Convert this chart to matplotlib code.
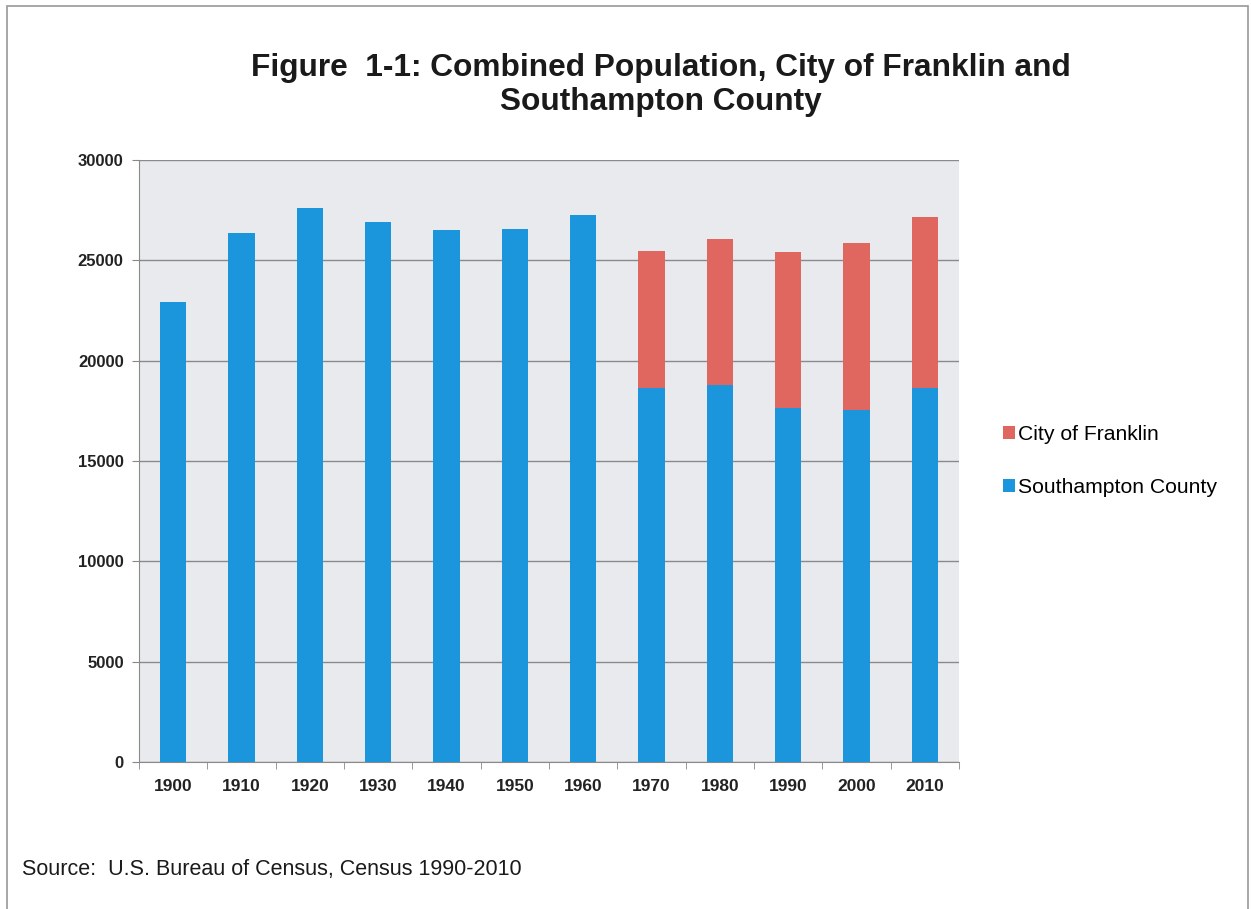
import matplotlib
matplotlib.use("Agg")
import matplotlib.pyplot as plt
from matplotlib.patches import Patch, Rectangle

years = ["1900", "1910", "1920", "1930", "1940", "1950", "1960",
         "1970", "1980", "1990", "2000", "2010"]
southampton = [22900, 26370, 27590, 26920, 26510, 26570, 27240,
               18650, 18780, 17620, 17540, 18620]
franklin = [0, 0, 0, 0, 0, 0, 0, 6810, 7290, 7820, 8320, 8540]

blue = "#1b95dc"
red = "#e0675f"
bg = "#e9eaee"

plt.rcParams['font.family'] = ['Liberation Sans', 'DejaVu Sans']

W, H = 1251, 909
fig = plt.figure(figsize=(W / 100, H / 100), dpi=100)
fig.patch.set_facecolor("white")

# outer frame (open at the bottom, as in the scan)
fig.add_artist(Rectangle((7 / W, -10 / H), (1248 - 7) / W, (909 + 10 - 6) / H,
                         transform=fig.transFigure, fill=False,
                         edgecolor="#a0a0a0", linewidth=1.3))

ax = fig.add_axes([139 / W, 1 - 762 / H, (959 - 139) / W, (762 - 160) / H])
ax.set_facecolor(bg)
x = list(range(len(years)))
ax.bar(x, southampton, width=0.39, color=blue, zorder=3, label="Southampton County")
ax.bar(x, franklin, width=0.39, bottom=southampton, color=red, zorder=3,
       label="City of Franklin")

ax.set_xlim(-0.5, len(years) - 0.5)
ax.set_ylim(0, 30000)
ax.set_yticks(range(0, 30001, 5000))
ax.set_yticklabels([str(v) for v in range(0, 30001, 5000)])
ax.set_xticks(x)
ax.set_xticklabels(years)
ax.set_xticks([i - 0.5 for i in range(len(years) + 1)], minor=True)
ax.tick_params(axis="x", which="major", length=0, pad=12, labelsize=12.5,
               labelcolor="#222222")
ax.tick_params(axis="x", which="minor", length=5, color="#888888", direction="out")
ax.tick_params(axis="y", length=5, color="#888888", labelsize=12, pad=6,
               labelcolor="#222222")
for lbl in ax.get_xticklabels() + ax.get_yticklabels():
    lbl.set_fontweight("bold")
ax.grid(axis="y", color="#8a8a8a", linewidth=1.0, zorder=1)
for s in ["top", "right"]:
    ax.spines[s].set_visible(False)
ax.spines["left"].set_color("#8a8a8a")
ax.spines["bottom"].set_color("#8a8a8a")

fig.text(661 / W, 1 - 85 / H,
         "Figure  1-1: Combined Population, City of Franklin and\nSouthampton County",
         ha="center", va="center", fontsize=22.8, fontweight="bold",
         color="#1a1a1a", linespacing=1.2)

handles = [Patch(facecolor=red, edgecolor="none"), Patch(facecolor=blue, edgecolor="none")]
fig.legend(handles, ["City of Franklin", "Southampton County"],
           loc="center left", bbox_to_anchor=(984 / W, 1 - 461 / H),
           frameon=False, fontsize=15.2, handlelength=0.55, handleheight=0.55,
           handletextpad=0.15, labelspacing=1.6)

fig.text(22 / W, 1 - 870 / H, "Source:  U.S. Bureau of Census, Census 1990-2010",
         ha="left", va="center", fontsize=15.5, color="#1a1a1a")

fig.savefig("out.png", dpi=100)
